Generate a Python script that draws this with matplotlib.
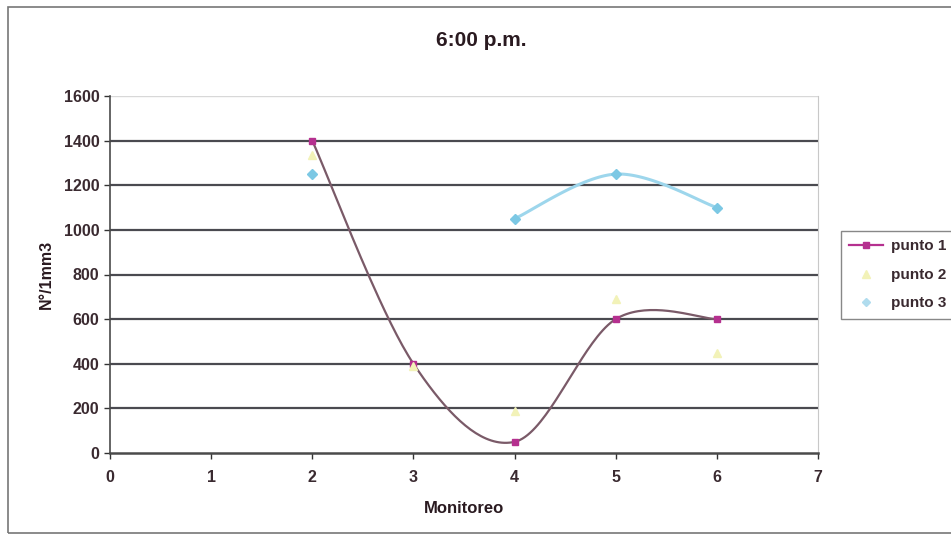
import numpy as np
import matplotlib
matplotlib.use("Agg")
import matplotlib.pyplot as plt
from matplotlib.lines import Line2D
from matplotlib.patches import Rectangle

plt.rcParams['font.family'] = ['Liberation Sans', 'DejaVu Sans']

monitoreo = [2, 3, 4, 5, 6]
punto1 = [1400, 400, 50, 600, 600]
punto2 = [1335, 390, 190, 690, 450]
punto3_x = [2, 4, 5, 6]
punto3 = [1250, 1050, 1250, 1100]
x_ticks = [0, 1, 2, 3, 4, 5, 6, 7]
y_ticks = [0, 200, 400, 600, 800, 1000, 1200, 1400, 1600]


def smooth(xs, ys, n=40):
    """Catmull-Rom style smoothed line through the points (Bezier segments)."""
    xs = np.asarray(xs, float)
    ys = np.asarray(ys, float)
    P = np.column_stack([xs, ys])
    out = []
    for i in range(len(P) - 1):
        p0 = P[i - 1] if i > 0 else P[i]
        p1 = P[i]
        p2 = P[i + 1]
        p3 = P[i + 2] if i + 2 < len(P) else P[i + 1]
        c1 = p1 + (p2 - p0) / 6.0
        c2 = p2 - (p3 - p1) / 6.0
        t = np.linspace(0, 1, n)[:, None]
        seg = ((1 - t) ** 3) * p1 + 3 * ((1 - t) ** 2) * t * c1 + 3 * (1 - t) * t ** 2 * c2 + t ** 3 * p2
        out.append(seg if i == 0 else seg[1:])
    seg = np.vstack(out)
    return seg[:, 0], seg[:, 1]


fig = plt.figure(figsize=(9.51, 5.39), dpi=100)
ax = fig.add_axes([110 / 951, 1 - 453 / 539, 708 / 951, 357 / 539])

ax.set_xlim(0, 7)
ax.set_ylim(0, 1600)

# horizontal gridlines
for yv in y_ticks[1:-1]:
    ax.axhline(yv, color='#4a4a50', lw=1.6, zorder=1)
ax.axhline(1600, color='#d8d8d8', lw=1.0, zorder=1)

# punto 1: smoothed line with square markers
sx, sy = smooth(monitoreo, punto1)
ax.plot(sx, sy, color='#7a5a68', lw=1.6, zorder=3)
ax.plot(monitoreo, punto1, ls='none', marker='s', ms=5, color='#b5308f',
        mec='#b5308f', zorder=4)

# punto 2: markers only
ax.plot(monitoreo, punto2, ls='none', marker='^', ms=6, color='#f2f2b8',
        mec='#f2f2b8', zorder=4)

# punto 3: smoothed line for the contiguous run, marker at the isolated point
sx3, sy3 = smooth(punto3_x[1:], punto3[1:])
ax.plot(sx3, sy3, color='#9dd6ec', lw=2.2, zorder=3)
ax.plot(punto3_x, punto3, ls='none', marker='D', ms=5, color='#7cc8e4',
        mec='#7cc8e4', zorder=4)

ax.set_xticks(x_ticks)
ax.set_yticks(y_ticks)
ax.tick_params(axis='both', labelsize=11.5, colors='#333333', length=4,
               width=1, direction='out')
for lab in ax.get_xticklabels() + ax.get_yticklabels():
    lab.set_fontweight('bold')
    lab.set_color('#3a2a30')
ax.tick_params(axis='x', pad=8)

ax.spines['top'].set_visible(False)
ax.spines['right'].set_color('#c8c8c8')
ax.spines['left'].set_color('#4a4a4a')
ax.spines['left'].set_linewidth(1.2)
ax.spines['bottom'].set_color('#4a4a4a')
ax.spines['bottom'].set_linewidth(1.8)

ax.set_xlabel('Monitoreo', fontsize=12, fontweight='bold', color='#2a1a20', labelpad=12)
ax.set_ylabel('N°/1mm3', fontsize=11.5, fontweight='bold', color='#2a1a20', labelpad=7)

fig.text(481 / 951, 1 - 40 / 539, '6:00 p.m.', ha='center', va='center',
         fontsize=15, fontweight='bold', color='#2a1a20')

# legend
handles = [
    Line2D([], [], color='#b5308f', lw=1.6, marker='s', ms=5),
    Line2D([], [], ls='none', marker='^', ms=6, color='#f2f2b8'),
    Line2D([], [], ls='none', marker='D', ms=4, color='#b0dcee'),
]
leg = fig.legend(handles, ['punto 1', 'punto 2', 'punto 3'],
                 loc='upper left', bbox_to_anchor=(841 / 951, 1 - 231 / 539),
                 frameon=True, fancybox=False, fontsize=11, handlelength=2.2,
                 borderpad=0.55, labelspacing=0.95, handletextpad=0.5,
                 borderaxespad=0)
leg.get_frame().set_edgecolor('#6a6a6a')
leg.get_frame().set_linewidth(1.0)
for t in leg.get_texts():
    t.set_fontweight('bold')
    t.set_color('#3a2a30')

# outer chart frame
fig.add_artist(Rectangle((8 / 951, 6 / 539), 945 / 951, 526 / 539,
                         transform=fig.transFigure, fill=False,
                         edgecolor='#777777', lw=1.2))

fig.savefig('out.png', dpi=100)
